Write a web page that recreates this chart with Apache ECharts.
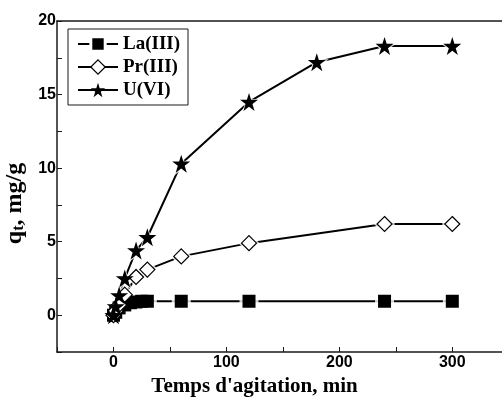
<!DOCTYPE html>
<html>
<head>
<meta charset="utf-8">
<script src="https://cdn.jsdelivr.net/npm/echarts@6/dist/echarts.min.js"></script>
<style>html,body{margin:0;padding:0;background:#fff}#c{width:502px;height:403px}</style>
</head>
<body>
<div id="c"></div>
<script>
var laTime = [0, 2, 5, 10, 15, 20, 25, 30, 60, 120, 240, 300];
var laQ    = [0, 0.2, 0.5, 0.7, 0.85, 0.9, 0.95, 0.95, 0.95, 0.95, 0.95, 0.95];
var prTime = [0, 2, 5, 10, 20, 30, 60, 120, 240, 300];
var prQ    = [0, 0.3, 0.7, 1.4, 2.6, 3.1, 4.0, 4.9, 6.2, 6.2];
var uTime  = [0, 2, 5, 10, 20, 30, 60, 120, 180, 240, 300];
var uQ     = [0, 0.6, 1.35, 2.5, 4.4, 5.3, 10.3, 14.5, 17.2, 18.3, 18.3];
var seriesNames = ['La(III)', 'Pr(III)', 'U(VI)'];
var xTitle = "Temps d'agitation, min";

function pairs(t, q) { return t.map(function (v, i) { return [v, q[i]]; }); }

var chart = echarts.init(document.getElementById('c'));
var axisCol = '#1a1a1a';
var starPath = 'path://M50,0 L61.8,36.2 L100,36.2 L69.1,58.8 L80.9,95.1 L50,72.7 L19.1,95.1 L30.9,58.8 L0,36.2 L38.2,36.2 Z';

var defs = [
  { name: seriesNames[0], t: laTime, q: laQ, symbol: 'rect', size: 13, halo: 19,
    style: { color: '#000' }, legendStyle: { color: '#000', borderColor: '#fff', borderWidth: 3 } },
  { name: seriesNames[1], t: prTime, q: prQ, symbol: 'diamond', size: 15, halo: 21,
    style: { color: '#fff', borderColor: '#000', borderWidth: 1.2 }, legendStyle: { color: '#fff', borderColor: '#000', borderWidth: 1.2 } },
  { name: seriesNames[2], t: uTime, q: uQ, symbol: starPath, size: 18, halo: 24,
    style: { color: '#000' }, legendStyle: { color: '#000' } }
];

var series = [];
defs.forEach(function (d) {
  var data = pairs(d.t, d.q);
  series.push({ name: d.name + ' line', type: 'line', data: data, z: 1, silent: true,
    showSymbol: false, symbol: 'none', lineStyle: { color: '#000', width: 2 } });
  series.push({ name: d.name + ' halo', type: 'scatter', data: data, z: 2, silent: true,
    symbol: d.symbol, symbolSize: d.halo, itemStyle: { color: '#fff' } });
  series.push({ name: d.name, type: 'line', data: data, z: 3,
    symbol: d.symbol, symbolSize: d.size, showAllSymbol: true,
    itemStyle: d.style, lineStyle: { width: 0, color: '#000' } });
});

var option = {
  animation: false,
  backgroundColor: '#fff',
  grid: { left: 57, right: 0, top: 21, bottom: 51, outerBoundsMode: 'none', containLabel: false },
  legend: {
    orient: 'vertical', left: 68, top: 29,
    itemWidth: 40, itemHeight: 18, itemGap: 3,
    padding: [5, 8, 5, 9],
    borderColor: axisCol, borderWidth: 1,
    textStyle: { fontFamily: 'Liberation Serif', fontWeight: 'bold', fontSize: 19, lineHeight: 20, color: '#000' },
    data: defs.map(function (d) {
      return { name: d.name, itemStyle: d.legendStyle, lineStyle: { color: '#000', width: 2 } };
    })
  },
  xAxis: [{
    type: 'value', min: -50, max: 344, interval: 50,
    name: xTitle, nameLocation: 'middle', nameGap: 24,
    nameTextStyle: { fontFamily: 'Liberation Serif', fontWeight: 'bold', fontSize: 21, color: '#000', padding: [0, 50, 0, 0] },
    axisLine: { onZero: false, lineStyle: { color: axisCol, width: 1.5 } },
    axisTick: { inside: true, length: 5, lineStyle: { color: axisCol } },
    splitLine: { show: false },
    axisLabel: {
      fontFamily: 'Liberation Sans', fontWeight: 'bold', fontSize: 16, color: '#000', margin: 3,
      formatter: function (v) { return (v % 100 === 0 && v >= 0) ? String(v) : ''; }
    }
  }, {
    type: 'value', position: 'top', min: -50, max: 344,
    axisLine: { show: true, onZero: false, lineStyle: { color: axisCol, width: 1.5 } },
    axisTick: { show: false }, axisLabel: { show: false }, splitLine: { show: false }
  }],
  yAxis: {
    type: 'value', min: -2.5, max: 20, interval: 2.5,
    name: '{a|q}{b|t}{a|, mg/g}', nameLocation: 'middle', nameGap: 19, nameRotate: 90,
    nameTextStyle: {
      padding: [0, 34, 0, 0],
      rich: {
        a: { fontFamily: 'Liberation Serif', fontWeight: 'bold', fontSize: 24, color: '#000' },
        b: { fontFamily: 'Liberation Serif', fontWeight: 'bold', fontSize: 16, color: '#000', verticalAlign: 'bottom', padding: [10, 0, 0, 0] }
      }
    },
    axisLine: { show: true, onZero: false, lineStyle: { color: axisCol, width: 1.5 } },
    axisTick: { inside: true, length: 5, lineStyle: { color: axisCol } },
    splitLine: { show: false },
    axisLabel: {
      fontFamily: 'Liberation Sans', fontWeight: 'bold', fontSize: 16, color: '#000', margin: 1,
      formatter: function (v) { return (v % 5 === 0) ? String(v) : ''; }
    }
  },
  series: series
};
chart.setOption(option);
</script>
</body>
</html>
